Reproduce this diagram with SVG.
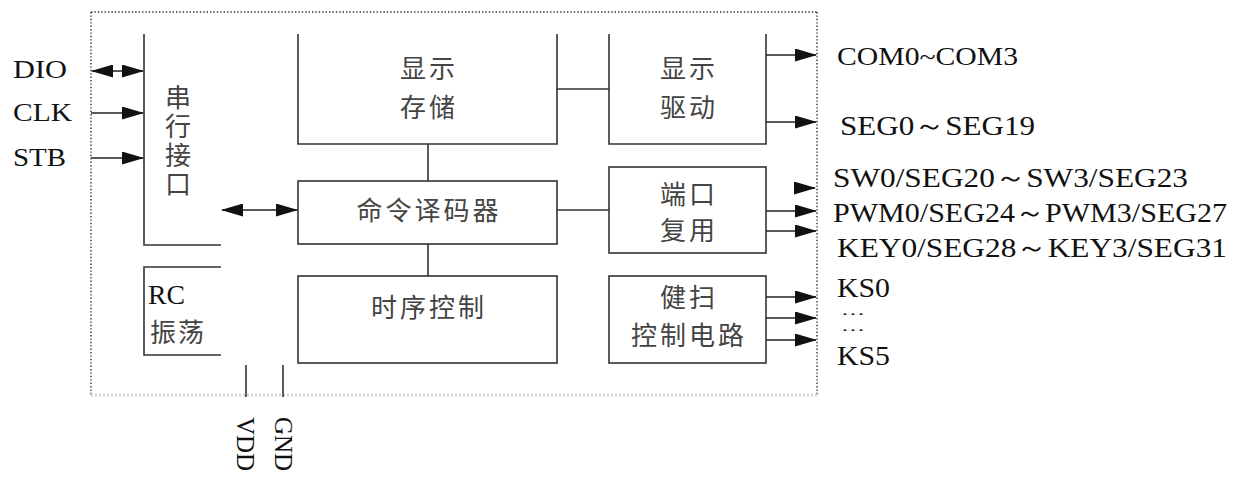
<svg xmlns="http://www.w3.org/2000/svg" width="1239" height="477" viewBox="0 0 1239 477">
<defs>
<marker id="ah" markerUnits="userSpaceOnUse" markerWidth="22" markerHeight="13" refX="21" refY="6.5" orient="auto-start-reverse" viewBox="0 0 22 13">
<path d="M0,0 L22,6.5 L0,13 z" fill="#111"/>
</marker>
</defs>
<style>
.ln{fill:none;stroke:#333;stroke-width:1.6}
.ar{fill:none;stroke:#222;stroke-width:1.6;marker-end:url(#ah)}
.ar2{fill:none;stroke:#222;stroke-width:1.6;marker-end:url(#ah);marker-start:url(#ah)}
.cn{font-family:"Noto Sans CJK SC","Noto Sans",sans-serif;font-size:26px;fill:#444;letter-spacing:3px}
.lt{font-family:"Liberation Serif","Times New Roman",serif;fill:#111}
.bd{fill:none;stroke:#333;stroke-width:1.4;stroke-dasharray:1.4 2}
</style>
<rect width="1239" height="477" fill="#fff"/>
<g id="border">
<line class="bd" x1="91" y1="12" x2="817" y2="12"/>
<line class="bd" x1="91" y1="12" x2="91" y2="395"/>
<line class="bd" x1="817" y1="12" x2="817" y2="395"/>
<line x1="91" y1="395" x2="817" y2="395" stroke="#d6d6d6" stroke-width="3" stroke-dasharray="2 2"/>
</g>
<g id="serial">
<polyline class="ln" points="144,34 144,245 221,245"/>
<text class="cn" x="178" y="84" style="writing-mode:vertical-rl">串行接口</text>
</g>
<g id="rc">
<polyline class="ln" points="221,267 144,267 144,355 221,355"/>
<text class="lt" x="148" y="304" font-size="28" textLength="37" lengthAdjust="spacingAndGlyphs">RC</text>
<text class="cn" x="150" y="342" style="letter-spacing:2px">振荡</text>
</g>
<g id="memory">
<polyline class="ln" points="298,34 298,144 557,144 557,34"/>
<text class="cn" x="429" y="78" text-anchor="middle">显示</text>
<text class="cn" x="429" y="117" text-anchor="middle">存储</text>
</g>
<g id="driver">
<polyline class="ln" points="609,34 609,144 766,144 766,34"/>
<text class="cn" x="689" y="78" text-anchor="middle">显示</text>
<text class="cn" x="689" y="117" text-anchor="middle">驱动</text>
</g>
<g id="decoder">
<rect class="ln" x="298" y="181" width="259" height="63"/>
<text class="cn" x="429" y="220" text-anchor="middle">命令译码器</text>
</g>
<g id="timing">
<rect class="ln" x="298" y="276" width="259" height="87"/>
<text class="cn" x="429" y="317" text-anchor="middle">时序控制</text>
</g>
<g id="portmux">
<rect class="ln" x="609" y="167" width="157" height="86"/>
<text class="cn" x="689" y="204" text-anchor="middle">端口</text>
<text class="cn" x="689" y="240" text-anchor="middle">复用</text>
</g>
<g id="keyscan">
<rect class="ln" x="609" y="276" width="157" height="87"/>
<text class="cn" x="689" y="307" text-anchor="middle">健扫</text>
<text class="cn" x="689" y="345" text-anchor="middle">控制电路</text>
</g>
<g id="connectors">
<line class="ln" x1="557" y1="89" x2="609" y2="89"/>
<line class="ln" x1="428" y1="144" x2="428" y2="181"/>
<line class="ln" x1="428" y1="244" x2="428" y2="276"/>
<line class="ln" x1="557" y1="210" x2="609" y2="210"/>
<line class="ar2" x1="222" y1="210" x2="297" y2="210"/>
<line class="ar2" x1="92" y1="71" x2="143" y2="71"/>
<line class="ar" x1="91" y1="113" x2="143" y2="113"/>
<line class="ar" x1="91" y1="158" x2="143" y2="158"/>
<line class="ar" x1="766" y1="55" x2="816" y2="55"/>
<line class="ar" x1="766" y1="122" x2="816" y2="122"/>
<line class="ar" x1="794" y1="188" x2="815" y2="188"/>
<line class="ar" x1="766" y1="211" x2="816" y2="211"/>
<line class="ar" x1="766" y1="231" x2="816" y2="231"/>
<line class="ar" x1="766" y1="297" x2="816" y2="297"/>
<line class="ar" x1="766" y1="318" x2="816" y2="318"/>
<line class="ar" x1="766" y1="340" x2="816" y2="340"/>
<line class="ln" x1="246" y1="365" x2="246" y2="397"/>
<line class="ln" x1="283" y1="365" x2="283" y2="397"/>
</g>
<g id="labels">
<text class="lt" x="13" y="78" font-size="25" textLength="54" lengthAdjust="spacingAndGlyphs">DIO</text>
<text class="lt" x="13" y="121" font-size="25" textLength="59" lengthAdjust="spacingAndGlyphs">CLK</text>
<text class="lt" x="13" y="166" font-size="25" textLength="53" lengthAdjust="spacingAndGlyphs">STB</text>
<text class="lt" x="837" y="65" font-size="26" textLength="181" lengthAdjust="spacingAndGlyphs">COM0~COM3</text>
<text class="lt" x="840" y="135" font-size="28" textLength="195" lengthAdjust="spacingAndGlyphs">SEG0～SEG19</text>
<text class="lt" x="833" y="187" font-size="28" textLength="355" lengthAdjust="spacingAndGlyphs">SW0/SEG20～SW3/SEG23</text>
<text class="lt" x="833" y="222" font-size="28" textLength="394" lengthAdjust="spacingAndGlyphs">PWM0/SEG24～PWM3/SEG27</text>
<text class="lt" x="837" y="257" font-size="28" textLength="390" lengthAdjust="spacingAndGlyphs">KEY0/SEG28～KEY3/SEG31</text>
<text class="lt" x="837" y="297" font-size="27" textLength="53" lengthAdjust="spacingAndGlyphs">KS0</text>
<text class="lt" x="841" y="315" font-size="14" textLength="24" lengthAdjust="spacingAndGlyphs">…</text>
<text class="lt" x="841" y="331" font-size="14" textLength="24" lengthAdjust="spacingAndGlyphs">…</text>
<text class="lt" x="837" y="365" font-size="27" textLength="53" lengthAdjust="spacingAndGlyphs">KS5</text>
<text class="lt" font-size="25" transform="translate(237,417) rotate(90)">VDD</text>
<text class="lt" font-size="25" transform="translate(275,417) rotate(90)">GND</text>
</g>
</svg>
